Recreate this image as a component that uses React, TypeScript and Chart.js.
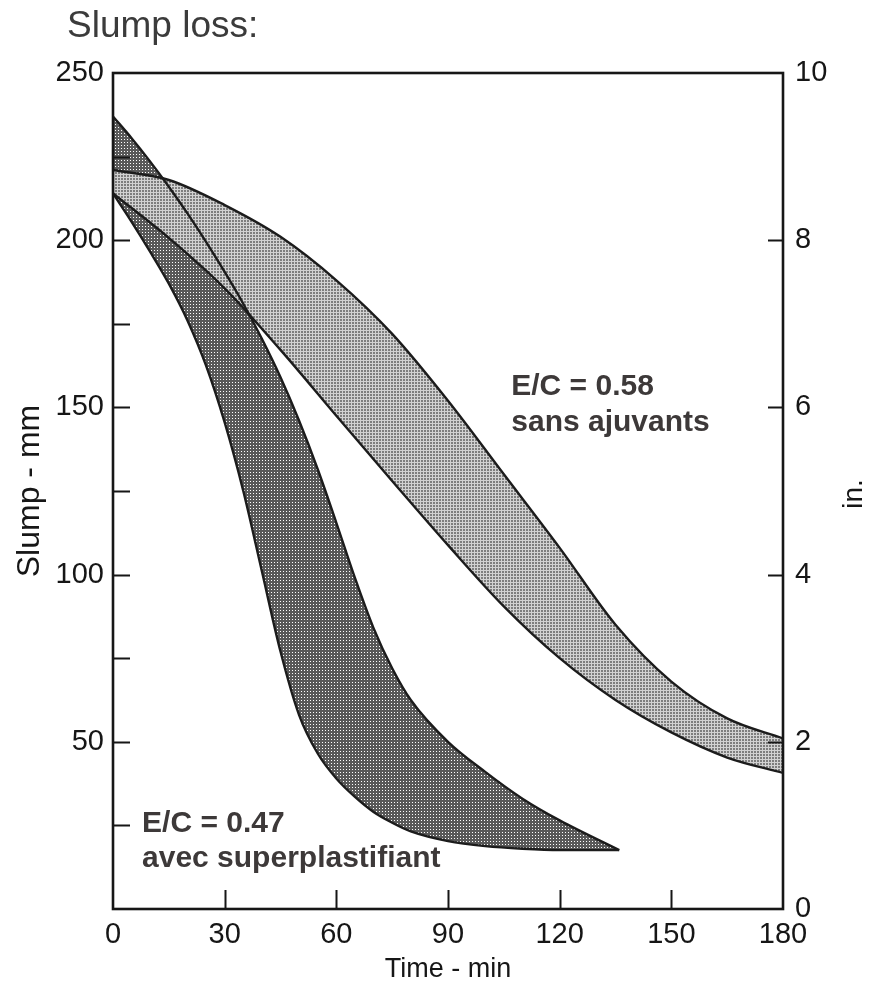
import React, { useEffect, useRef } from 'react';
import { Chart, registerables } from 'chart.js';

Chart.register(...registerables);

// Time axis (min) and slump axes (mm on the left, inches on the right)
const timeTicks = [0, 30, 60, 90, 120, 150, 180];
const slumpTicks = [0, 25, 50, 75, 100, 125, 150, 175, 200, 225, 250];
const inchTicks = [0, 2, 4, 6, 8, 10];

// W/C = 0.58, no admixture: upper and lower limits of the band
const plainTimes = [0, 15, 30, 45, 60, 75, 90, 105, 120, 135, 150, 165, 180];
const plainUpper = [221, 218, 210.5, 201, 188, 172, 152, 130, 108, 85, 68, 57, 51];
const plainLower = [214, 200.7, 185.6, 167.2, 147.5, 128, 108.8, 90.5, 75, 62.5, 52.8, 45.3, 40.7];

// W/C = 0.47 with superplasticizer: upper and lower limits of the band
const superTimes = [0, 5, 10, 15, 20, 25, 30, 35, 40, 45, 50, 55, 60, 65, 70, 75, 80, 90, 100, 110, 120, 136];
const superUpper = [237, 230.5, 223.5, 216, 208, 199.5, 190.5, 181, 170.5, 159, 146, 131.5, 115.5, 99, 84, 72, 62.5, 50, 41, 33, 26.5, 17.6];
const superLower = [214, 205.5, 196.5, 187, 176, 162.5, 145.5, 125, 101, 77, 58, 46.5, 39, 33.5, 29, 25.8, 23.2, 20.3, 18.8, 18, 17.6, 17.6];

const FONT = "'Liberation Sans', Arial, Helvetica, sans-serif";
const INK = '#161616';
const NOTE = '#3d3939';

function dotPattern(
  target: CanvasRenderingContext2D,
  base: string,
  dot: string,
  dotSize: number
): CanvasPattern | string {
  const tile = document.createElement('canvas');
  tile.width = 3;
  tile.height = 3;
  const g = tile.getContext('2d');
  if (!g) return base;
  g.fillStyle = base;
  g.fillRect(0, 0, 3, 3);
  g.clearRect(1, 1, dotSize, dotSize);
  g.fillStyle = dot;
  g.fillRect(1, 1, dotSize, dotSize);
  return target.createPattern(tile, 'repeat') || base;
}

const toPoints = (xs: number[], ys: number[]) => xs.map((x, i) => ({ x, y: ys[i] }));

// Inward tick marks, plot frame, and the text labels
const decorations = {
  id: 'decorations',
  afterDraw(chart: any) {
    const { ctx, chartArea: a, scales } = chart;
    const sx = scales.x;
    const sy = scales.y;
    const sr = scales.y1;
    ctx.save();
    ctx.strokeStyle = INK;
    ctx.lineWidth = 2;
    ctx.beginPath();
    sx.ticks.forEach((t: any) => {
      if (t.value <= sx.min || t.value >= sx.max) return;
      const px = Math.round(sx.getPixelForValue(t.value)) + 0.5;
      ctx.moveTo(px, a.bottom);
      ctx.lineTo(px, a.bottom - 19);
    });
    sy.ticks.forEach((t: any) => {
      if (t.value <= sy.min || t.value >= sy.max) return;
      const py = Math.round(sy.getPixelForValue(t.value)) + 0.5;
      ctx.moveTo(a.left, py);
      ctx.lineTo(a.left + 17, py);
    });
    sr.ticks.forEach((t: any) => {
      if (t.value <= sr.min || t.value >= sr.max) return;
      const py = Math.round(sr.getPixelForValue(t.value)) + 0.5;
      ctx.moveTo(a.right, py);
      ctx.lineTo(a.right - 15, py);
    });
    ctx.stroke();

    ctx.lineWidth = 2.6;
    ctx.strokeRect(a.left, a.top, a.right - a.left, a.bottom - a.top);

    // Chart heading
    ctx.fillStyle = '#3b3b3b';
    ctx.font = `37px ${FONT}`;
    ctx.textAlign = 'left';
    ctx.textBaseline = 'alphabetic';
    ctx.fillText('Slump loss:', 67, 37);

    // Right-hand unit label
    ctx.save();
    ctx.fillStyle = INK;
    ctx.font = `28px ${FONT}`;
    ctx.translate(854, 494);
    ctx.rotate(-Math.PI / 2);
    ctx.textAlign = 'center';
    ctx.textBaseline = 'middle';
    ctx.fillText('in.', 0, 0);
    ctx.restore();

    // Band labels
    ctx.fillStyle = NOTE;
    ctx.font = `bold 30px ${FONT}`;
    ctx.textAlign = 'left';
    ctx.textBaseline = 'alphabetic';
    const px1 = sx.getPixelForValue(107);
    const py1 = sy.getPixelForValue(153.7);
    ctx.fillText('E/C = 0.58', px1, py1);
    ctx.fillText('sans ajuvants', px1, py1 + 36);
    const px2 = sx.getPixelForValue(7.8);
    const py2 = sy.getPixelForValue(23);
    ctx.fillText('E/C = 0.47', px2, py2);
    ctx.fillText('avec superplastifiant', px2, py2 + 35);
    ctx.restore();
  },
};

export default function App() {
  const canvasRef = useRef<HTMLCanvasElement | null>(null);

  useEffect(() => {
    const canvas = canvasRef.current;
    if (!canvas) return;
    const ctx = canvas.getContext('2d');
    if (!ctx) return;

    const lightFill = dotPattern(ctx, '#d2d2d2', '#7e7e7e', 2);
    const darkFill = dotPattern(ctx, 'rgba(25,25,25,0.72)', 'rgba(255,255,255,0.35)', 1);

    const lineStyle = {
      borderColor: '#1c1c1c',
      borderWidth: 2.4,
      pointRadius: 0,
      cubicInterpolationMode: 'monotone' as const,
    };

    const tickFont = { family: FONT, size: 29 };

    const chart = new Chart(canvas, {
      type: 'line',
      data: {
        datasets: [
          {
            label: 'E/C = 0.58 (max)',
            data: toPoints(plainTimes, plainUpper),
            fill: { target: 1 },
            backgroundColor: lightFill as any,
            ...lineStyle,
          },
          {
            label: 'E/C = 0.58 (min)',
            data: toPoints(plainTimes, plainLower),
            fill: false,
            ...lineStyle,
          },
          {
            label: 'E/C = 0.47 (max)',
            data: toPoints(superTimes, superUpper),
            fill: { target: 3 },
            backgroundColor: darkFill as any,
            ...lineStyle,
          },
          {
            label: 'E/C = 0.47 (min)',
            data: toPoints(superTimes, superLower),
            fill: false,
            ...lineStyle,
          },
        ],
      },
      options: {
        responsive: false,
        animation: false,
        events: [],
        layout: { padding: { top: 73, left: 0, right: 0, bottom: 0 } },
        plugins: {
          legend: { display: false },
          tooltip: { enabled: false },
          title: { display: false },
          filler: { drawTime: 'beforeDatasetsDraw' },
        },
        scales: {
          x: {
            type: 'linear',
            min: 0,
            max: 180,
            afterBuildTicks: (s: any) => {
              s.ticks = timeTicks.map((v) => ({ value: v }));
            },
            afterFit: (s: any) => {
              s.height = 84;
            },
            grid: { display: false, drawTicks: false },
            border: { display: false },
            ticks: {
              autoSkip: false,
              maxRotation: 0,
              padding: 9,
              color: INK,
              font: tickFont,
              callback: (v: any) => String(v),
            },
            title: {
              display: true,
              text: 'Time - min',
              color: INK,
              font: { family: FONT, size: 27 },
              padding: { top: 0, bottom: 7 },
            },
          },
          y: {
            type: 'linear',
            position: 'left',
            min: 0,
            max: 250,
            afterBuildTicks: (s: any) => {
              s.ticks = slumpTicks.map((v) => ({ value: v }));
            },
            afterFit: (s: any) => {
              s.width = 113;
            },
            grid: { display: false, drawTicks: false },
            border: { display: false },
            ticks: {
              autoSkip: false,
              padding: 9,
              color: INK,
              font: tickFont,
              callback: (v: any) => (Number(v) % 50 === 0 && Number(v) > 0 ? String(v) : ''),
            },
            title: {
              display: true,
              text: 'Slump - mm',
              color: INK,
              font: { family: FONT, size: 32 },
              padding: { top: 11, bottom: 0 },
            },
          },
          y1: {
            type: 'linear',
            position: 'right',
            min: 0,
            max: 10,
            afterBuildTicks: (s: any) => {
              s.ticks = inchTicks.map((v) => ({ value: v }));
            },
            afterFit: (s: any) => {
              s.width = 88;
            },
            grid: { display: false, drawTicks: false },
            border: { display: false },
            ticks: {
              autoSkip: false,
              padding: 12,
              color: INK,
              font: tickFont,
              callback: (v: any) => String(v),
            },
          },
        },
      },
      plugins: [decorations],
    });

    return () => {
      chart.destroy();
    };
  }, []);

  return (
    <div style={{ position: 'absolute', left: 0, top: 0, width: 871, height: 993, background: '#ffffff' }}>
      <canvas ref={canvasRef} width={871} height={993} style={{ display: 'block' }} />
    </div>
  );
}
